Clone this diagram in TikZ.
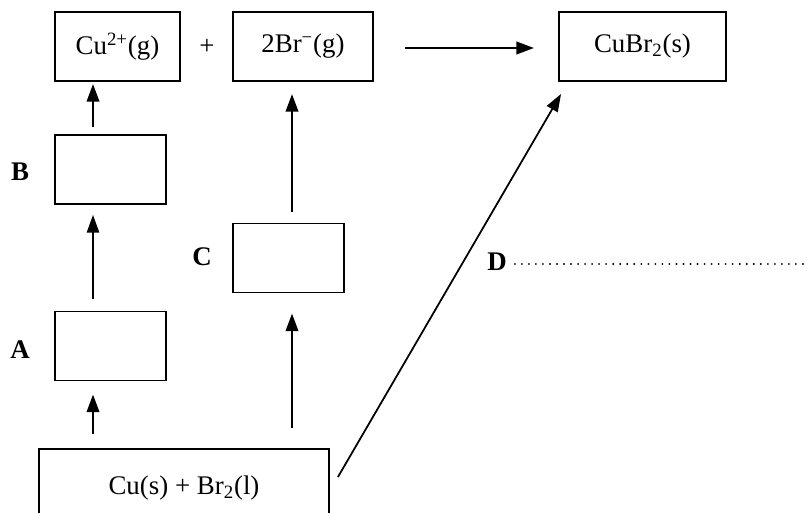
\documentclass[tikz,border=0pt]{standalone}
\usepackage{fontspec}
\setmainfont{Liberation Serif}
\usetikzlibrary{arrows.meta}
\tikzset{
  bhbox/.style={draw=black, line width=1.1pt, inner sep=0pt, minimum height=1.38cm, font=\fontsize{15.3}{18}\selectfont},
  bhtext/.style={inner sep=1pt, font=\fontsize{15.3}{18}\selectfont},
  bhlabel/.style={inner sep=1pt, font=\fontsize{15.3}{18}\selectfont\bfseries},
  bharrow/.style={line width=1.4pt, draw=black, -{Triangle[length=10pt, width=7pt]}},
  bhthin/.style={line width=0.8pt, draw=black, -{Triangle[length=10pt, width=7pt]}},
  bhdiag/.style={line width=1pt, draw=black, -{Triangle[length=10pt, width=7pt]}},
  bhdots/.style={line width=1.2pt, draw=black, line cap=round, dash pattern=on 0pt off 4pt},
}
\begin{document}
\begin{tikzpicture}[x=0.02cm, y=-0.02cm]
\useasboundingbox (0,0) rectangle (809,513);
\node[bhbox, minimum width=2.50cm] (cuion) at (117.5,46.5) {Cu\textsuperscript{2+}(g)};
\node[bhtext] (plus) at (207,46.5) {+};
\node[bhbox, minimum width=2.80cm] (brion) at (303,46.5) {2Br\textsuperscript{−}(g)};
\node[bhbox, minimum width=3.34cm] (cubr) at (642.5,46.5) {CuBr\textsubscript{2}(s)};
\node[bhbox, minimum width=2.22cm] (boxb) at (110.5,169.5) {};
\node[bhbox, minimum width=2.22cm] (boxa) at (110.5,346) {};
\node[bhbox, minimum width=2.22cm] (boxc) at (288.5,258) {};
\node[bhbox, minimum width=5.80cm, minimum height=1.56cm] (start) at (184,488) {Cu(s) + Br\textsubscript{2}(l)};
\node[bhlabel] (labb) at (20,172) {B};
\node[bhlabel] (laba) at (20,350) {A};
\node[bhlabel] (labc) at (202,257) {C};
\node[bhlabel] (labd) at (497,262) {D};
\coordinate (dotend) at (809,264);
\draw[bharrow, shorten <=0.28cm, shorten >=0.26cm] ([xshift=-0.35cm]start.north -| boxa.south) -- ([xshift=-0.35cm]boxa.south);
\draw[bhthin, shorten <=0.24cm, shorten >=0.20cm] ([xshift=-0.35cm]boxa.north) -- ([xshift=-0.35cm]boxb.south);
\draw[bharrow, shorten <=0.14cm, shorten >=0.04cm] ([xshift=-0.35cm]boxb.north) -- ([xshift=-0.35cm]boxb.north |- cuion.south);
\draw[bharrow, shorten <=0.40cm, shorten >=0.40cm] ([xshift=0.07cm]boxc.south |- start.north) -- ([xshift=0.07cm]boxc.south);
\draw[bharrow, shorten <=0.22cm, shorten >=0.24cm] ([xshift=0.07cm]boxc.north) -- ([xshift=0.07cm]boxc.north |- brion.south);
\draw[bharrow, shorten <=0.62cm, shorten >=0.48cm] ([yshift=-0.03cm]brion.east) -- ([yshift=-0.03cm]cubr.west);
\draw[bhdiag] ([xshift=0.16cm, yshift=0.22cm]start.east) -- ([xshift=0.06cm, yshift=-0.24cm]cubr.south west);
\draw[bhdots, shorten <=0.12cm] (labd.east |- dotend) -- (dotend);
\end{tikzpicture}
\end{document}
